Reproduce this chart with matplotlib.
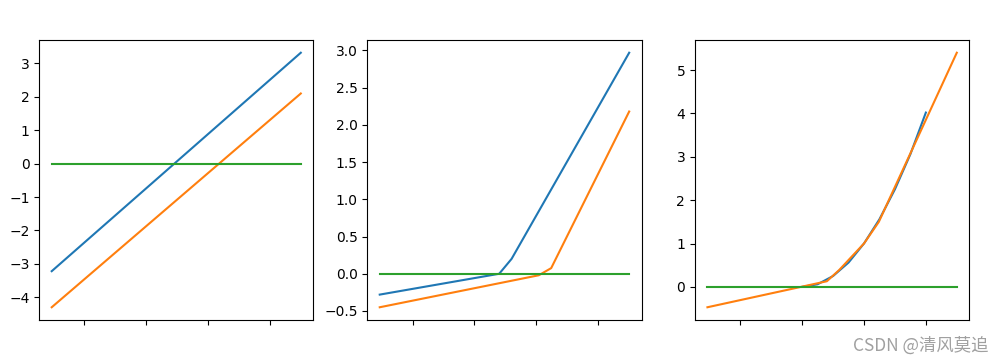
import matplotlib
matplotlib.use('Agg')
from matplotlib import pyplot as plt

# x range shared by all three panels
x_ends = [-1.53, 2.5]
x_ticks = [-1, 0, 1, 2]

# panel 1: two straight lines and zero
p1_blue = [-3.22, 3.32]
p1_orange = [-4.3, 2.1]
p1_green = [0, 0]

# panel 2: piecewise lines (vertices)
p2_blue_x = [-1.53, 0.4, 0.6, 2.5]
p2_blue_y = [-0.28, 0.0, 0.2, 2.97]
p2_orange_x = [-1.53, 1.04, 1.24, 2.5]
p2_orange_y = [-0.45, -0.02, 0.076, 2.18]
p2_green = [0, 0]

# panel 3: smooth curve + piecewise approximation
p3_blue_x = [0, 0.25, 0.5, 0.75, 1.0, 1.25, 1.5, 1.75, 2.0]
p3_blue_y = [0, 0.06, 0.25, 0.56, 1.0, 1.56, 2.25, 3.06, 4.02]
p3_orange_x = [-1.53, 0.4, 0.6, 1.0, 1.24, 2.5]
p3_orange_y = [-0.47, 0.13, 0.39, 1.0, 1.5, 5.4]
p3_green = [0, 0]

fig = plt.figure(figsize=(10.04, 3.63), dpi=100)
ax1 = fig.add_axes([0.0391, 0.1185, 0.2729, 0.7713])
ax2 = fig.add_axes([0.3658, 0.1185, 0.2733, 0.7713])
ax3 = fig.add_axes([0.6922, 0.1185, 0.2732, 0.7713])

ax1.plot(x_ends, p1_blue)
ax1.plot(x_ends, p1_orange)
ax1.plot(x_ends, p1_green)

ax2.plot(p2_blue_x, p2_blue_y)
ax2.plot(p2_orange_x, p2_orange_y)
ax2.plot(x_ends, p2_green)

ax3.plot(p3_blue_x, p3_blue_y)
ax3.plot(p3_orange_x, p3_orange_y)
ax3.plot(x_ends, p3_green)

for ax in (ax1, ax2, ax3):
    ax.set_xticks(x_ticks)
    ax.set_xticklabels([])

# watermark
fig.text(0.985, 0.048, 'CSDN @清风莫追', ha='right', va='center', fontsize=12.5,
         color='#a0a0a0', family=['Noto Sans CJK SC', 'DejaVu Sans'])

fig.savefig('out.png', dpi=100)
